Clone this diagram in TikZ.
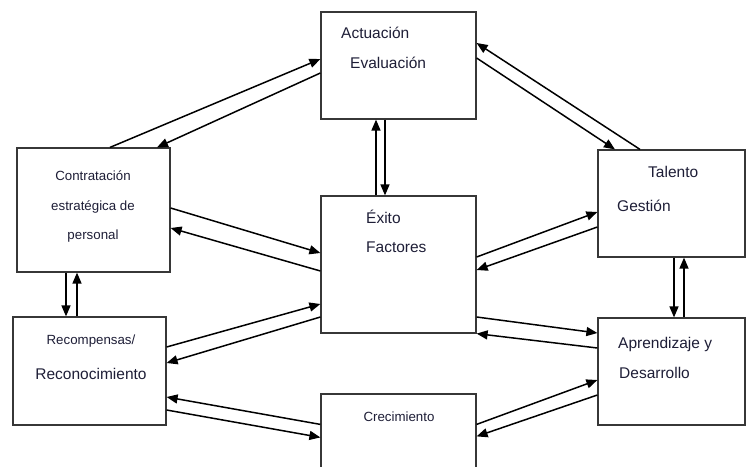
\documentclass[tikz,border=0pt]{standalone}
\usepackage{fontspec}
\setmainfont{Liberation Sans}
\usetikzlibrary{arrows.meta}
\definecolor{boxline}{RGB}{55,55,55}
\definecolor{txt}{RGB}{30,30,55}
\begin{document}
\begin{tikzpicture}[x=1pt, y=-1pt,
  box/.style={draw=boxline, line width=1.2pt, fill=white, inner sep=0pt},
  big/.style={text=txt, inner sep=0pt, font=\fontsize{15.5}{18}\selectfont},
  small/.style={text=txt, inner sep=0pt, font=\fontsize{13.3}{16}\selectfont},
  arr/.style={line width=1.5pt, -{Triangle[length=11pt, width=9pt]}}]
  \clip (0,0) rectangle (747,466);
  \fill[white] (0,0) rectangle (747,466);
  \node[box, minimum width=155pt, minimum height=107pt] (actu) at (398.5,65.5) {};
  \node[box, minimum width=153pt, minimum height=124pt] (contr) at (93.5,210) {};
  \node[box, minimum width=153pt, minimum height=108pt] (recomp) at (89.5,371) {};
  \node[box, minimum width=155pt, minimum height=137pt] (exito) at (398.5,264.5) {};
  \node[box, minimum width=155pt, minimum height=110pt] (crec) at (398.5,449) {};
  \node[box, minimum width=147pt, minimum height=107pt] (talento) at (671.5,203.5) {};
  \node[box, minimum width=147pt, minimum height=107pt] (aprend) at (671.5,371.5) {};

  \node[big, anchor=base west] (actuA) at (341,38) {Actuación};
  \node[big, anchor=base west] (actuB) at (350,68) {Evaluación};
  \node[small, anchor=base] (contrA) at (93,180) {Contratación};
  \node[small, anchor=base] (contrB) at (93,210) {estratégica de};
  \node[small, anchor=base] (contrC) at (93,239) {personal};
  \node[small, anchor=base] (recompA) at (91,344) {Recompensas/};
  \node[big, anchor=base] (recompB) at (91,379) {Reconocimiento};
  \node[big, anchor=base west] (exitoA) at (366,223) {Éxito};
  \node[big, anchor=base west] (exitoB) at (366,252) {Factores};
  \node[small, anchor=base] (crecA) at (399,421) {Crecimiento};
  \node[big, anchor=base west] (talentoA) at (648,177) {Talento};
  \node[big, anchor=base west] (talentoB) at (617,211) {Gestión};
  \node[big, anchor=base west] (aprendA) at (618,348) {Aprendizaje y};
  \node[big, anchor=base west] (aprendB) at (619,378) {Desarrollo};

  \draw[arr] ([xshift=16.5pt]contr.north) -- ([yshift=6.5pt]actu.west);
  \draw[arr] ([yshift=-7.5pt]actu.west) -- ([xshift=63.5pt]contr.north);
  \draw[arr] ([xshift=-31.5pt]talento.north) -- ([yshift=22.5pt]actu.east);
  \draw[arr] ([yshift=7.5pt]actu.east) -- ([xshift=-56.5pt]talento.north);
  \draw[arr] ([xshift=-22.5pt]exito.north) -- ([xshift=-22.5pt]actu.south);
  \draw[arr] ([xshift=-13.5pt]actu.south) -- ([xshift=-13.5pt]exito.north);
  \draw[arr] ([yshift=2pt]contr.east) -- ([yshift=11.5pt]exito.west);
  \draw[arr] ([yshift=-6.5pt]exito.west) -- ([yshift=-18pt]contr.east);
  \draw[arr] ([yshift=24pt]recomp.east) -- ([yshift=-39.5pt]exito.west);
  \draw[arr] ([yshift=-52.5pt]exito.west) -- ([yshift=8pt]recomp.east);
  \draw[arr] ([yshift=-31pt]crec.north west) -- ([yshift=-26pt]recomp.east);
  \draw[arr] ([yshift=-39pt]recomp.east) -- ([yshift=-44pt]crec.north west);
  \draw[arr] ([xshift=-27.5pt]contr.south) -- ([xshift=-27.5pt]contr.south |- recomp.north);
  \draw[arr] ([xshift=-16.5pt]contr.south |- recomp.north) -- ([xshift=-16.5pt]contr.south);
  \draw[arr] ([yshift=7.5pt]exito.east) -- ([yshift=-8.5pt]talento.west);
  \draw[arr] ([yshift=-23.5pt]talento.west) -- ([yshift=-5.5pt]exito.east);
  \draw[arr] ([yshift=-52.5pt]exito.east) -- ([yshift=38.5pt]aprend.west);
  \draw[arr] ([yshift=23.5pt]aprend.west) -- (exito.south east);
  \draw[arr] ([yshift=-31pt]crec.north east) -- ([yshift=-8.5pt]aprend.west);
  \draw[arr] ([yshift=-23.5pt]aprend.west) -- ([yshift=-43pt]crec.north east);
  \draw[arr] ([xshift=2.5pt]talento.south) -- ([xshift=2.5pt]aprend.north);
  \draw[arr] ([xshift=12.5pt]aprend.north) -- ([xshift=12.5pt]talento.south);
\end{tikzpicture}
\end{document}
